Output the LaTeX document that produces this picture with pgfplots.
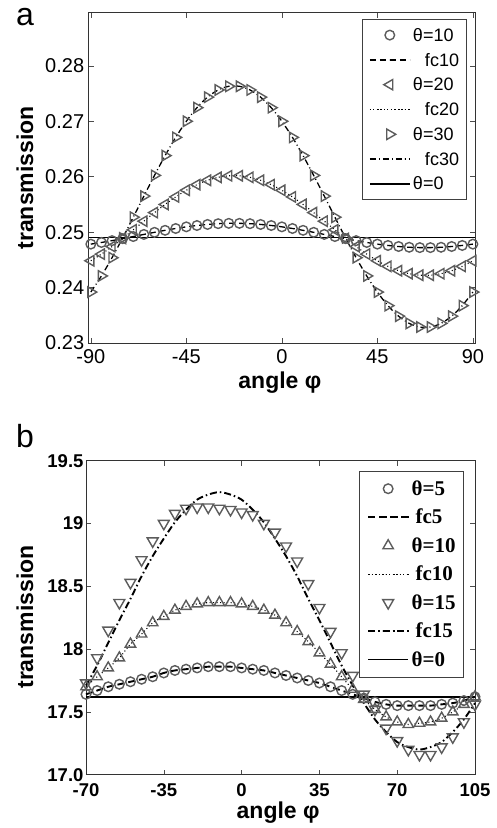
\documentclass[border=0pt]{standalone}
\usepackage{fontspec}
\setmainfont{Liberation Sans}
\newfontfamily\tnr{Liberation Serif}
\usepackage{pgfplots}
\pgfplotsset{compat=1.18}
\usepackage{pgfplotstable}

\pgfplotstableread{
phi t10 t20 t30
-90 0.24784 0.24484 0.23919
-85 0.24814 0.24604 0.24210
-80 0.24847 0.24740 0.24539
-75 0.24883 0.24887 0.24896
-70 0.24921 0.25042 0.25270
-65 0.24959 0.25198 0.25650
-60 0.24997 0.25353 0.26024
-55 0.25033 0.25500 0.26381
-50 0.25066 0.25636 0.26710
-45 0.25096 0.25756 0.27001
-40 0.25120 0.25857 0.27246
-35 0.25139 0.25936 0.27436
-30 0.25153 0.25989 0.27566
-25 0.25159 0.26017 0.27632
-20 0.25159 0.26017 0.27632
-15 0.25153 0.25989 0.27566
-10 0.25139 0.25936 0.27436
-5 0.25120 0.25857 0.27246
0 0.25096 0.25756 0.27001
5 0.25066 0.25636 0.26710
10 0.25033 0.25500 0.26381
15 0.24997 0.25353 0.26024
20 0.24959 0.25198 0.25650
25 0.24921 0.25042 0.25270
30 0.24883 0.24887 0.24896
35 0.24847 0.24740 0.24539
40 0.24814 0.24604 0.24210
45 0.24784 0.24484 0.23919
50 0.24760 0.24383 0.23674
55 0.24741 0.24304 0.23484
60 0.24727 0.24251 0.23354
65 0.24721 0.24223 0.23288
70 0.24721 0.24223 0.23288
75 0.24727 0.24251 0.23354
80 0.24741 0.24304 0.23484
85 0.24760 0.24383 0.23674
90 0.24784 0.24484 0.23919
}\dataA

\pgfplotstableread{
phi t5 t10 t15 f15
-70 17.64 17.70 17.73 17.71
-65 17.67 17.78 17.93 17.87
-60 17.70 17.85 18.15 18.05
-55 17.72 17.93 18.37 18.23
-50 17.74 18.04 18.53 18.40
-45 17.76 18.12 18.71 18.58
-40 17.78 18.21 18.86 18.74
-35 17.81 18.26 19.00 18.88
-30 17.83 18.31 19.08 19.01
-25 17.84 18.34 19.12 19.11
-20 17.85 18.36 19.13 19.19
-15 17.86 18.37 19.13 19.23
-10 17.86 18.37 19.12 19.25
-5 17.86 18.37 19.11 19.23
0 17.85 18.36 19.09 19.19
5 17.84 18.34 19.07 19.11
10 17.83 18.31 19.00 19.01
15 17.81 18.27 18.93 18.88
20 17.79 18.21 18.82 18.74
25 17.77 18.14 18.70 18.58
30 17.75 18.06 18.52 18.40
35 17.73 17.97 18.33 18.23
40 17.70 17.88 18.14 18.05
45 17.67 17.78 17.97 17.87
50 17.64 17.68 17.79 17.71
55 17.61 17.60 17.64 17.57
60 17.58 17.52 17.52 17.44
65 17.56 17.46 17.37 17.34
70 17.55 17.42 17.27 17.26
75 17.55 17.40 17.20 17.22
80 17.55 17.41 17.16 17.20
85 17.55 17.42 17.16 17.22
90 17.56 17.45 17.22 17.26
95 17.57 17.50 17.30 17.34
100 17.59 17.56 17.42 17.44
105 17.62 17.62 17.56 17.57
}\dataB

\definecolor{mk}{gray}{0.36}

\pgfplotsset{
  mystyle/.style={
    scale only axis, clip=false,
    tick align=inside, major tick length=5pt,
    axis line style={line width=0.8pt, black!80},
    every tick/.style={black!70, line width=0.6pt},
    legend cell align=left,
    legend image code/.code={\draw[mark repeat=2,mark phase=2,##1] plot coordinates {(0pt,0pt) (20pt,0pt) (40pt,0pt)};},
  },
  mkstyle/.style={only marks, mk, line width=1.4pt, mark options={solid}},
}

\begin{document}
\begin{tikzpicture}
\useasboundingbox (0,0) rectangle (496pt,828pt);
\node[font=\fontsize{32}{32}\selectfont] at (25pt,811pt) {a};
\node[font=\fontsize{32}{32}\selectfont] at (25pt,392pt) {b};

\begin{axis}[mystyle,
  at={(88.7pt,485pt)}, anchor=south west,
  width=386.3pt, height=330.3pt,
  xmin=-91, xmax=91, ymin=0.23, ymax=0.2896,
  xtick={-90,-45,0,45,90}, xticklabels={-90,-45,0,45,90},
  ytick={0.23,0.24,0.25,0.26,0.27,0.28}, yticklabels={0.23,0.24,0.25,0.26,0.27,0.28},
  ticklabel style={font=\fontsize{20}{20}\selectfont},
  xticklabel style={yshift=-3pt},
  yticklabel style={xshift=-1pt},
  xlabel={angle φ}, ylabel={transmission},
  label style={font=\fontsize{23}{23}\selectfont\bfseries},
  xlabel style={at={(axis description cs:0.495,-0.121)}, anchor=center},
  ylabel style={at={(axis description cs:-0.165,0.5)}, anchor=center},
  legend style={at={(axis description cs:0.7067,0.980)}, anchor=north west,
    draw=black!75, line width=0.8pt, inner xsep=7pt, inner ysep=3pt,
    row sep=0pt, column sep=2.5pt, font=\fontsize{18}{18}\selectfont,
    nodes={inner sep=0pt, text height=18.5pt, text depth=6.3pt}},
]
\addplot[mkstyle, mark=o, mark size=4.8pt] table[x=phi,y=t10]{\dataA};
\addlegendentry{θ=10}
\addplot[black, line width=1.3pt, dash pattern=on 6pt off 4pt, smooth] table[x=phi,y=t10]{\dataA};
\addlegendentry{\hspace{12pt}fc10}
\addplot[mkstyle, mark=triangle, mark size=6pt, mark options={rotate=90}] table[x=phi,y=t20]{\dataA};
\addlegendentry{θ=20}
\addplot[black, line width=1.1pt, dash pattern=on 1pt off 2.5pt, smooth] table[x=phi,y=t20]{\dataA};
\addlegendentry{\hspace{12pt}fc20}
\addplot[mkstyle, mark=triangle, mark size=6pt, mark options={rotate=-90}] table[x=phi,y=t30]{\dataA};
\addlegendentry{θ=30}
\addplot[black, line width=1.3pt, dash pattern=on 6pt off 3pt on 1pt off 3pt, smooth] table[x=phi,y=t30]{\dataA};
\addlegendentry{\hspace{12pt}fc30}
\addplot[black, line width=1.4pt] coordinates {(-91,0.249) (91,0.249)};
\addlegendentry{θ=0}
\end{axis}

\begin{axis}[mystyle,
  at={(86pt,53.3pt)}, anchor=south west,
  width=389pt, height=314pt,
  xmin=-70, xmax=105, ymin=17, ymax=19.5,
  xtick={-70,-35,0,35,70,105}, xticklabels={-70,-35,0,35,70,105},
  ytick={17,17.5,18,18.5,19,19.5}, yticklabels={17.0,17.5,18,18.5,19,19.5},
  ticklabel style={font=\fontsize{18.5}{18.5}\selectfont\bfseries},
  xticklabel style={yshift=-5pt},
  yticklabel style={xshift=1pt},
  xlabel={angle φ}, ylabel={transmission},
  label style={font=\fontsize{23}{23}\selectfont\bfseries},
  xlabel style={at={(axis description cs:0.494,-0.12)}, anchor=center},
  ylabel style={at={(axis description cs:-0.157,0.502)}, anchor=center},
  legend style={at={(axis description cs:0.7026,0.967)}, anchor=north west,
    draw=black!75, line width=0.8pt, inner xsep=7.5pt, inner ysep=3pt,
    row sep=0pt, column sep=2.5pt, font=\fontsize{21}{21}\selectfont\tnr\bfseries,
    nodes={inner sep=0pt, text height=21pt, text depth=7.5pt}},
]
\addplot[mkstyle, mark=o, mark size=4.8pt] table[x=phi,y=t5]{\dataB};
\addlegendentry{θ=5}
\addplot[black, line width=1.9pt, dash pattern=on 7pt off 4pt, smooth] table[x=phi,y=t5]{\dataB};
\addlegendentry{\hspace{4pt}fc5}
\addplot[mkstyle, mark=triangle, mark size=6pt] table[x=phi,y=t10]{\dataB};
\addlegendentry{θ=10}
\addplot[black, line width=1.1pt, dash pattern=on 1pt off 2.5pt, smooth] table[x=phi,y=t10]{\dataB};
\addlegendentry{\hspace{4pt}fc10}
\addplot[mkstyle, mark=triangle, mark size=6.3pt, mark options={rotate=180}] table[x=phi,y=t15]{\dataB};
\addlegendentry{θ=15}
\addplot[black, line width=1.9pt, dash pattern=on 7pt off 3pt on 1.5pt off 3pt, smooth] table[x=phi,y=f15]{\dataB};
\addlegendentry{\hspace{4pt}fc15}
\addplot[black, line width=1.4pt] coordinates {(-70,17.62) (105,17.62)};
\addlegendentry{θ=0}
\end{axis}
\end{tikzpicture}
\end{document}
